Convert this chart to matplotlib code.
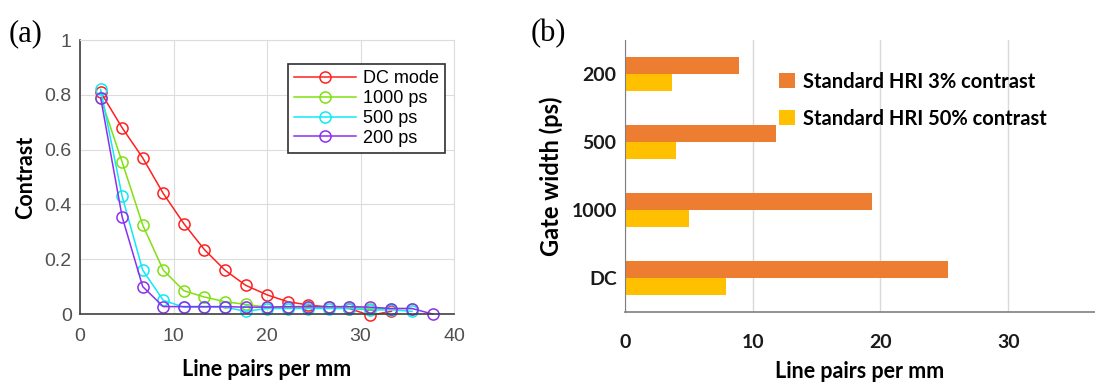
import matplotlib.pyplot as plt

# (a) contrast vs spatial frequency
lp = [2.2, 4.5, 6.7, 8.9, 11.1, 13.3, 15.5, 17.7, 20.0, 22.2, 24.4, 26.6, 28.8, 31.0, 33.3, 35.5, 37.7]
dc_mode = [0.81, 0.68, 0.57, 0.44, 0.33, 0.235, 0.16, 0.105, 0.07, 0.045, 0.033, 0.025, 0.02, -0.005, 0.01]
ps1000 = [0.79, 0.555, 0.325, 0.16, 0.085, 0.062, 0.045, 0.035, 0.025, 0.025, 0.025, 0.025, 0.025, 0.02, 0.02, 0.02]
ps500 = [0.82, 0.43, 0.16, 0.05, 0.025, 0.025, 0.025, 0.01, 0.02, 0.02, 0.02, 0.02, 0.02, 0.015, 0.015, 0.01]
ps200 = [0.79, 0.355, 0.10, 0.027, 0.027, 0.027, 0.027, 0.025, 0.025, 0.027, 0.027, 0.027, 0.027, 0.025, 0.02, 0.02, 0.0]

# (b) resolution limits
gates = ["DC", "1000", "500", "200"]
hri_3pct = [25.3, 19.3, 11.8, 8.9]
hri_50pct = [7.9, 5.0, 4.0, 3.65]

fig = plt.figure(figsize=(10.95, 3.88), dpi=100)

ax0 = fig.add_axes([0.0731, 0.1907, 0.3416, 0.706])
series = [
    (dc_mode, "DC mode", "#ff2020"),
    (ps1000, "1000 ps", "#80e010"),
    (ps500, "500 ps", "#10e8f8"),
    (ps200, "200 ps", "#8a30f0"),
]
for vals, name, col in series:
    ax0.plot(lp[:len(vals)], vals, "-o", color=col, mfc="none", mec=col,
             ms=8, lw=1.1, mew=1.1, label=name, clip_on=False)
ax0.set_xlim(0, 40)
ax0.set_ylim(0, 1)
ax0.set_xticks([0, 10, 20, 30, 40])
ax0.set_yticks([0, 0.2, 0.4, 0.6, 0.8, 1])
ax0.set_yticklabels(["0", "0.2", "0.4", "0.6", "0.8", "1"])
ax0.grid(True, color="#dcdcdc", lw=0.8)
ax0.set_axisbelow(True)
for s in ["top", "right"]:
    ax0.spines[s].set_color("#dcdcdc")
for s in ["left", "bottom"]:
    ax0.spines[s].set_color("#404040")
    ax0.spines[s].set_linewidth(1.2)
ax0.tick_params(axis="y", labelsize=14, colors="#505050", length=0, pad=6)
ax0.tick_params(axis="x", labelsize=14, colors="#505050", length=0, pad=10)
for t in ax0.get_xticklabels() + ax0.get_yticklabels():
    t.set_family("Liberation Sans")
ax0.set_xlabel("Line pairs per mm", fontsize=15.5, fontweight="bold", family="Lato", labelpad=10)
ax0.set_ylabel("Contrast", fontsize=15.5, fontweight="bold", family="Lato", labelpad=6)
leg = ax0.legend(loc="upper right", bbox_to_anchor=(1.0, 0.945), fancybox=False,
                 edgecolor="#303030", framealpha=1, handlelength=3.4,
                 prop={"family": "Liberation Sans", "size": 13},
                 borderpad=0.35, labelspacing=0.15, handletextpad=0.4)
leg.get_frame().set_linewidth(1.2)
fig.text(0.008, 0.895, "(a)", fontsize=22, family="Liberation Serif")

# (b)
ax1 = fig.add_axes([0.5708, 0.1959, 0.4292, 0.701])
ypos = list(range(len(gates)))
h = 0.25
ax1.barh([y + h / 2 for y in ypos], hri_3pct, height=h, color="#ed7d31",
         label="Standard HRI 3% contrast")
ax1.barh([y - h / 2 for y in ypos], hri_50pct, height=h, color="#ffc000",
         label="Standard HRI 50% contrast")
ax1.set_ylim(-0.5, 3.5)
ax1.set_xlim(0, 36.8)
ax1.set_xticks([0, 10, 20, 30])
ax1.set_yticks(ypos)
ax1.set_yticklabels(gates)
ax1.grid(True, axis="x", color="#d9d9d9", lw=1)
ax1.set_axisbelow(True)
for s in ["top", "right"]:
    ax1.spines[s].set_visible(False)
ax1.spines["left"].set_color("#7f7f7f")
ax1.spines["bottom"].set_color("#7f7f7f")
ax1.spines["bottom"].set_linewidth(1.2)
ax1.tick_params(axis="y", labelsize=14, colors="#1a1a1a", length=0, pad=6)
ax1.tick_params(axis="x", labelsize=14, colors="#1a1a1a", length=0, pad=16)
for t in ax1.get_xticklabels() + ax1.get_yticklabels():
    t.set_family("Lato")
    t.set_fontweight("bold")
ax1.set_xlabel("Line pairs per mm", fontsize=15.5, fontweight="bold", family="Lato", labelpad=7)
ax1.set_ylabel("Gate width (ps)", fontsize=17, fontweight="bold", family="Lato", labelpad=6)
ax1.legend(loc="upper left", bbox_to_anchor=(0.29, 0.95), frameon=False,
           prop={"family": "Lato", "size": 14.5, "weight": "bold"},
           handlelength=0.75, handleheight=0.75, handletextpad=0.4, labelspacing=0.85)
fig.text(0.485, 0.895, "(b)", fontsize=22, family="Liberation Serif")

fig.savefig("out.png", dpi=100)
